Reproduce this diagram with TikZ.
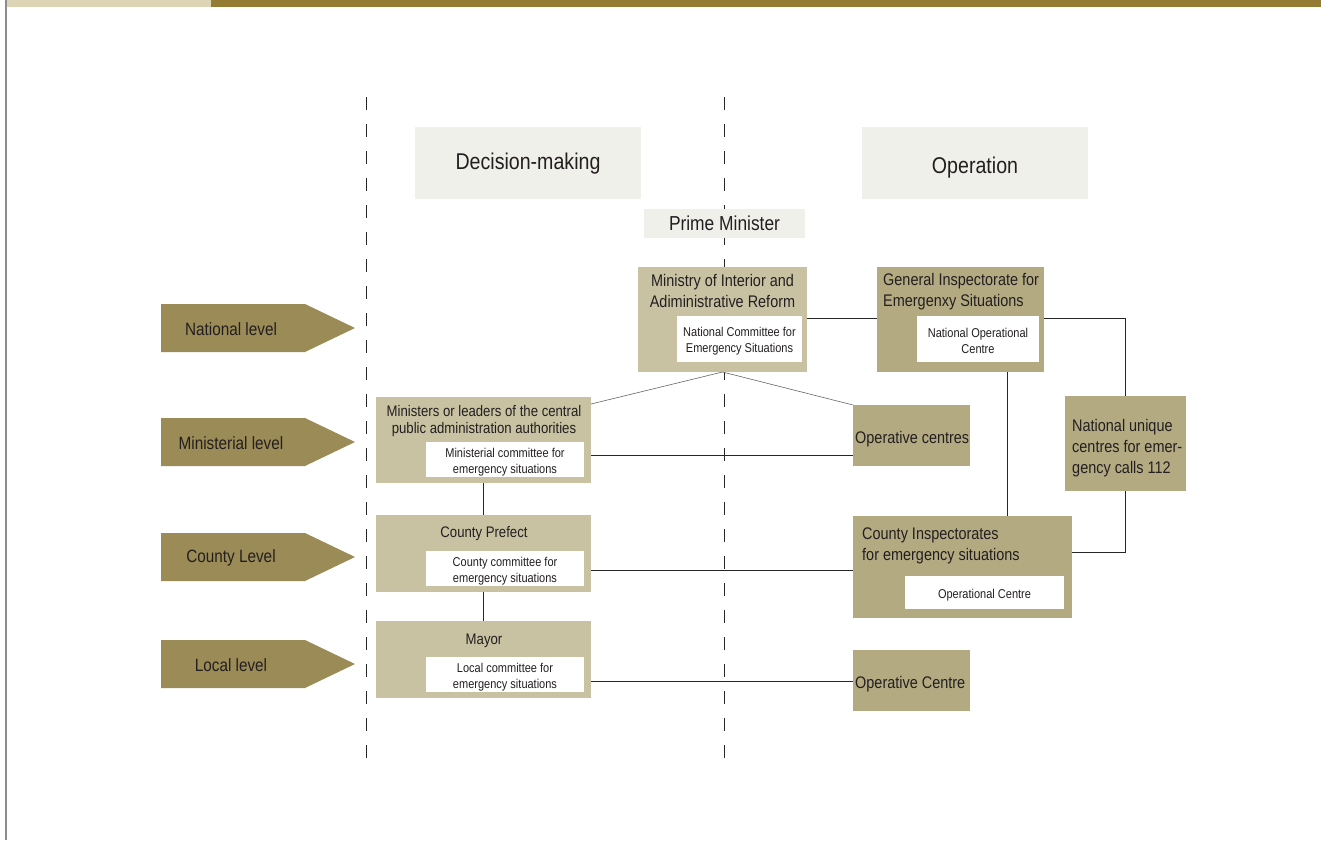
\documentclass[tikz,border=0pt]{standalone}
\usepackage{fontspec}
\setmainfont{Liberation Sans}[FakeStretch=0.86]
\usetikzlibrary{calc}
\definecolor{ink}{HTML}{231F20}
\definecolor{barlight}{HTML}{DDD3B5}
\definecolor{bardark}{HTML}{957C35}
\definecolor{levelfill}{HTML}{9B8B56}
\definecolor{lightbox}{HTML}{C8C2A3}
\definecolor{darkbox}{HTML}{B3AA82}
\definecolor{headfill}{HTML}{F0F0EA}
\newcommand\fsz[2]{\fontsize{#1}{#2}\selectfont}
\tikzset{
  rect/.style={rectangle, inner sep=0pt, outer sep=0pt, anchor=north west},
  headbox/.style={rect, fill=headfill},
  lbox/.style={rect, fill=lightbox},
  dbox/.style={rect, fill=darkbox},
  wbox/.style={rect, fill=white},
  txt/.style={inner sep=0pt, text=ink},
  conn/.style={draw=black!85, line width=0.8pt},
  diag/.style={draw=black!60, line width=0.6pt},
  guide/.style={draw=black!85, line width=0.8pt, dash pattern=on 13pt off 14pt},
  levelarrow/.style={fill=levelfill}
}
\begin{document}
\begin{tikzpicture}[x=1pt,y=-1pt]
\useasboundingbox (0,0) rectangle (1321,840);
% page decoration
\fill[barlight] (7,0) rectangle (211,7);
\fill[bardark] (211,0) rectangle (1321,7);
\draw[draw=black!45, line width=2pt] (6,0) -- (6,840);

% column guides
\draw[guide] (366,97) -- (366,758);
\draw[guide] (724,97) -- (724,758);

% column headings
\node[headbox, minimum width=226pt, minimum height=72pt] (dmh) at (415,127) {};
\node[txt, font=\fsz{22.8}{26}] at ($(dmh.center)+(0,1)$) {Decision-making};
\node[headbox, minimum width=226pt, minimum height=72pt] (oph) at (862,127) {};
\node[txt, font=\fsz{22.8}{26}] at ($(oph.center)+(0,5)$) {Operation};

% prime minister
\node[headbox, minimum width=161pt, minimum height=29pt] (pm) at (644,209) {};
\node[txt, font=\fsz{20.2}{24}] at (pm.center) {Prime Minister};

% level arrows
\foreach \yc/\lab/\nm in {328/National level/lvn, 442/Ministerial level/lvm, 557/County Level/lvc, 664/Local level/lvl}{
  \fill[levelarrow] (161,\yc-24) -- (305,\yc-24) -- (355,\yc) -- (305,\yc+24) -- (161,\yc+24) -- cycle;
  \node[txt, font=\fsz{17.8}{20}] (\nm) at (231,\yc+1) {\lab};
}

% national level
\node[lbox, minimum width=169pt, minimum height=105pt] (moi) at (638,267) {};
\node[txt, align=center, font=\fsz{16.8}{21}] at (722.5,291) {Ministry of Interior and\\Adiministrative Reform};
\node[wbox, minimum width=125pt, minimum height=46pt] (ncs) at (677,316) {};
\node[txt, align=center, font=\fsz{12.8}{16}] at ($(ncs.center)+(0,2)$) {National Committee for\\Emergency Situations};

\node[dbox, minimum width=167pt, minimum height=105pt] (gis) at (877,267) {};
\node[txt, anchor=west, align=left, font=\fsz{16.8}{21}] at (883,292) {General Inspectorate for\\Emergenxy Situations};
\node[wbox, minimum width=122pt, minimum height=46pt] (noc) at (917,316) {};
\node[txt, align=center, font=\fsz{12.8}{16}] at ($(noc.center)+(0,2)$) {National Operational\\Centre};

\node[dbox, minimum width=121pt, minimum height=95pt] (nuc) at (1065,396) {};
\node[txt, anchor=west, align=left, font=\fsz{16.8}{21}] at (1072,448.5) {National unique\\centres for emer-\\gency calls 112};

% ministerial level
\node[lbox, minimum width=215pt, minimum height=86pt] (mla) at (376,397) {};
\node[txt, align=center, font=\fsz{15.3}{17}] at (484,421) {Ministers or leaders of the central\\public administration authorities};
\node[wbox, minimum width=158pt, minimum height=35pt] (mce) at (426,442) {};
\node[txt, align=center, font=\fsz{12.8}{16}] at ($(mce.center)+(0,2.5)$) {Ministerial committee for\\emergency situations};

\node[dbox, minimum width=117pt, minimum height=61pt] (ocs) at (853,405) {};
\node[txt, anchor=west, font=\fsz{16.8}{20}] at (855,439) {Operative centres};

% county level
\node[lbox, minimum width=215pt, minimum height=77pt] (cpf) at (376,515) {};
\node[txt, font=\fsz{15.3}{17}] at (484,534) {County Prefect};
\node[wbox, minimum width=158pt, minimum height=35pt] (cce) at (426,551) {};
\node[txt, align=center, font=\fsz{12.8}{16}] at ($(cce.center)+(0,2.5)$) {County committee for\\emergency situations};

\node[dbox, minimum width=219pt, minimum height=102pt] (cie) at (853,516) {};
\node[txt, anchor=west, align=left, font=\fsz{16.8}{21}] at (862,546) {County Inspectorates\\for emergency situations};
\node[wbox, minimum width=159pt, minimum height=33pt] (coc) at (905,576) {};
\node[txt, font=\fsz{12.8}{16}] at ($(coc.center)+(0,3)$) {Operational Centre};

% local level
\node[lbox, minimum width=215pt, minimum height=77pt] (myr) at (376,621) {};
\node[txt, font=\fsz{15.3}{17}] at (484,641) {Mayor};
\node[wbox, minimum width=158pt, minimum height=35pt] (lce) at (426,657) {};
\node[txt, align=center, font=\fsz{12.8}{16}] at ($(lce.center)+(0,2.5)$) {Local committee for\\emergency situations};

\node[dbox, minimum width=117pt, minimum height=61pt] (ocl) at (853,650) {};
\node[txt, anchor=west, font=\fsz{16.8}{20}] at (855,684) {Operative Centre};

% connectors
\draw[conn] (moi.east |- 0,318) -- (gis.west |- 0,318);
\draw[conn] (gis.east |- 0,318) -| (nuc.north);
\draw[conn] (nuc.south) |- (cie.east |- 0,552);
\path (gis.south) ++(46.5,0) coordinate (gisb);
\draw[conn] (gisb) -- (gisb |- cie.north);
\draw[diag] (moi.south) -- ([yshift=-7pt]mla.north east);
\draw[diag] (moi.south) -- (ocs.north west);
\draw[conn] (mla.east |- 0,455) -- (ocs.west |- 0,455);
\draw[conn] (cpf.east |- 0,570) -- (cie.west |- 0,570);
\draw[conn] (myr.east |- 0,681) -- (ocl.west |- 0,681);
\path (mla.south) ++(-0.5,0) coordinate (mlab);
\draw[conn] (mlab) -- (mlab |- cpf.north);
\path (cpf.south) ++(-0.5,0) coordinate (cpfb);
\draw[conn] (cpfb) -- (cpfb |- myr.north);
\end{tikzpicture}
\end{document}
